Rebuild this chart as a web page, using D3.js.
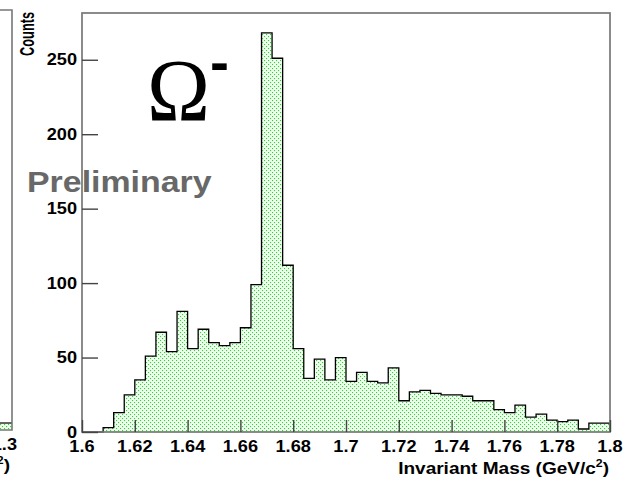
<!DOCTYPE html>
<html><head><meta charset="utf-8">
<script src="https://cdn.jsdelivr.net/npm/d3@7"></script>
<style>
html,body{margin:0;padding:0;background:#fff;}
svg{display:block;}
text{font-family:"Liberation Sans",Arial,Helvetica,sans-serif;font-weight:bold;}
</style></head><body>
<svg id="chart" width="623" height="478"></svg>
<script>
// Omega- invariant-mass spectrum: 50 equal bins between 1.6 and 1.8 GeV/c^2
const massRange = [1.6, 1.8];
const binCounts = [0, 0, 3, 13, 25, 35, 51, 67, 54, 81,
                   56, 69, 60, 58, 60, 70, 99, 268, 251, 112,
                   56, 36, 49, 35, 50, 34, 40, 34, 33, 43,
                   21, 27, 28, 26, 25, 25, 24, 21, 21, 15,
                   13, 18, 10, 12, 8, 7, 8, 2, 6, 6];
const countsRange = [0, 281.4];
const xMajorTicks = [1.6, 1.62, 1.64, 1.66, 1.68, 1.7, 1.72, 1.74, 1.76, 1.78, 1.8];
const xTickLabels = ["1.6", "1.62", "1.64", "1.66", "1.68", "1.7", "1.72", "1.74", "1.76", "1.78", "1.8"];
const yMajorTicks = [0, 50, 100, 150, 200, 250];
const yTickLabels = ["0", "50", "100", "150", "200", "250"];

const svg = d3.select("#chart");
svg.append("rect").attr("width", 623).attr("height", 478).attr("fill", "#fff");

const x = d3.scaleLinear().domain(massRange).range([82, 610]);
const y = d3.scaleLinear().domain(countsRange).range([432, 13]);

// dotted green fill
const defs = svg.append("defs");
const pat = defs.append("pattern").attr("id", "dots")
  .attr("width", 4).attr("height", 4).attr("patternUnits", "userSpaceOnUse");
pat.append("rect").attr("width", 4).attr("height", 4).attr("fill", "#f0fcf0");
pat.append("rect").attr("x", 0).attr("y", 0).attr("width", 1.1).attr("height", 1.1).attr("fill", "#2ad82a");
pat.append("rect").attr("x", 2).attr("y", 2).attr("width", 1.1).attr("height", 1.1).attr("fill", "#2ad82a");

// horizontally stretched text placed at an anchor point
function stretchedText(parent, px, py, str, opts) {
  const g = parent.append("g");
  const t = g.append("text").attr("x", 0).attr("y", 0)
    .attr("text-anchor", opts.anchor || "start")
    .style("font-size", opts.size + "px");
  if (opts.family) t.style("font-family", opts.family);
  if (opts.weight) t.style("font-weight", opts.weight);
  t.attr("fill", opts.fill || "#000");
  if (typeof str === "function") str(t); else t.text(str);
  const w = t.node().getBBox().width;
  const s = opts.width ? opts.width / w : (opts.sx || 1);
  g.attr("transform", `translate(${px},${py})${opts.rotate ? " rotate(" + opts.rotate + ")" : ""} scale(${s},1)`);
  return g;
}

// ---- neighbouring panel edge on the left ----
const left = svg.append("g");
left.append("rect").attr("x", -5).attr("y", 423).attr("width", 17).attr("height", 7).attr("fill", "url(#dots)");
left.append("path").attr("d", "M-5,423H12").attr("stroke", "#000").attr("stroke-width", 1.2).attr("fill", "none");
left.append("path").attr("d", "M-5,10H12V430H-5").attr("stroke", "#777").attr("stroke-width", 1.6).attr("fill", "none");
stretchedText(left, 17, 450, "1.3", {anchor: "end", size: 17, sx: 1.07});
stretchedText(left, 10, 471, t => {
  t.append("tspan").text("Invariant Mass (GeV/c");
  t.append("tspan").attr("dy", -7).style("font-size", "11px").text("2");
  t.append("tspan").attr("dy", 7).text(")");
}, {anchor: "end", size: 17, sx: 1.12});

// ---- histogram ----
const nBins = binCounts.length;
const binW = (massRange[1] - massRange[0]) / nBins;
const steps = [];
binCounts.forEach((c, i) => {
  const lo = massRange[0] + i * binW, hi = lo + binW;
  steps.push([lo, c], [hi, c]);
});
const area = d3.area().x(d => x(d[0])).y0(y(0)).y1(d => y(d[1]));
const line = d3.line().x(d => x(d[0])).y(d => y(d[1]));
svg.append("path").datum(steps).attr("d", area).attr("fill", "url(#dots)");
svg.append("path").datum([[massRange[0], 0], ...steps, [massRange[1], 0]])
  .attr("d", line).attr("fill", "none").attr("stroke", "#000").attr("stroke-width", 1.3);

// ---- frame ----
svg.append("rect").attr("x", x(massRange[0])).attr("y", y(countsRange[1]))
  .attr("width", x(massRange[1]) - x(massRange[0])).attr("height", y(0) - y(countsRange[1]))
  .attr("fill", "none").attr("stroke", "#777").attr("stroke-width", 1.7);

// ---- axes ----
const tickColor = "#444";
const xMinor = d3.range(0, 41).map(i => massRange[0] + i * 0.005);
const yMinor = d3.range(0, 290, 10).filter(v => v <= countsRange[1]);

const xAxisG = svg.append("g").attr("transform", `translate(0,${y(0)})`);
xAxisG.call(d3.axisBottom(x).tickValues(xMinor).tickSizeInner(-6).tickSizeOuter(0).tickFormat(""));
xAxisG.call(d3.axisBottom(x).tickValues(xMajorTicks).tickSizeInner(-12).tickSizeOuter(0).tickFormat(""));
xAxisG.selectAll(".domain").remove();
xAxisG.selectAll("line").attr("stroke", tickColor).attr("stroke-width", 1.4);
xAxisG.selectAll("text").remove();
xMajorTicks.forEach((v, i) => {
  stretchedText(svg, x(v), 452, xTickLabels[i], {anchor: "middle", size: 17, sx: 1.07});
});

const yAxisG = svg.append("g").attr("transform", `translate(${x(massRange[0])},0)`);
yAxisG.call(d3.axisLeft(y).tickValues(yMinor).tickSizeInner(-8).tickSizeOuter(0).tickFormat(""));
yAxisG.call(d3.axisLeft(y).tickValues(yMajorTicks).tickSizeInner(-16).tickSizeOuter(0).tickFormat(""));
yAxisG.selectAll(".domain").remove();
yAxisG.selectAll("line").attr("stroke", tickColor).attr("stroke-width", 1.4);
yAxisG.selectAll("text").remove();
yMajorTicks.forEach((v, i) => {
  stretchedText(svg, 77, y(v) + 5.5, yTickLabels[i], {anchor: "end", size: 17, sx: 1.07});
});

// axis titles
stretchedText(svg, 609, 474, t => {
  t.append("tspan").text("Invariant Mass (GeV/c");
  t.append("tspan").attr("dy", -7).style("font-size", "11px").text("2");
  t.append("tspan").attr("dy", 7).text(")");
}, {anchor: "end", size: 17, width: 211});
stretchedText(svg, 34, 12, "Counts", {anchor: "end", size: 19.5, width: 44, rotate: -90});

// particle label and watermark
stretchedText(svg, 147, 120, "\u03A9", {anchor: "start", size: 88, family: "'Liberation Serif','Times New Roman',serif", weight: "normal", width: 63});
stretchedText(svg, 210, 81, "-", {anchor: "start", size: 56, width: 19});
stretchedText(svg, 27, 192, "Preliminary", {anchor: "start", size: 30, width: 185, fill: "#686868"});
</script>
</body></html>
